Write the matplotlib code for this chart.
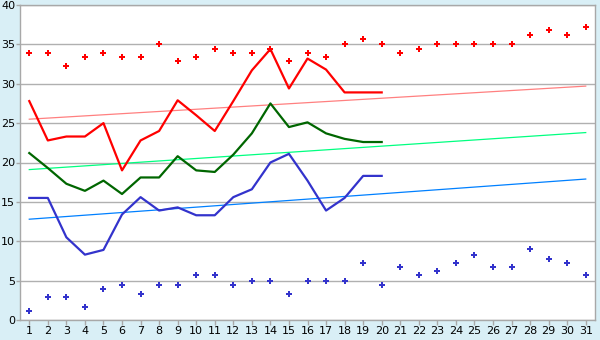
import matplotlib
matplotlib.use("Agg")
import numpy as np
from matplotlib import pyplot as plt

# days of the month
days = list(range(1, 32))
line_days = list(range(1, 21))

# max temperature (points) for every day
max_pts = [33.9, 33.9, 32.2, 33.4, 33.9, 33.4, 33.4, 35.0, 32.9, 33.4,
           34.4, 33.9, 33.9, 34.4, 32.9, 33.9, 33.4, 35.0, 35.7, 35.0,
           33.9, 34.4, 35.0, 35.0, 35.0, 35.0, 35.0, 36.2, 36.8, 36.2, 37.2]
# min temperature (points) for every day
min_pts = [1.1, 2.9, 2.9, 1.7, 3.9, 4.4, 3.3, 4.4, 4.4, 5.7,
           5.7, 4.4, 5.0, 5.0, 3.3, 5.0, 5.0, 5.0, 7.2, 4.4,
           6.7, 5.7, 6.2, 7.2, 8.3, 6.7, 6.7, 9.0, 7.8, 7.2, 5.7]

# measured series, days 1..20
red_line = [27.8, 22.8, 23.3, 23.3, 25.0, 19.0, 22.8, 24.0, 27.9, 26.0,
            24.0, 27.8, 31.7, 34.4, 29.4, 33.2, 31.8, 28.9, 28.9, 28.9]
green_line = [21.2, 19.3, 17.3, 16.4, 17.7, 16.0, 18.1, 18.1, 20.8, 19.0,
              18.8, 21.0, 23.7, 27.5, 24.5, 25.1, 23.7, 23.0, 22.6, 22.6]
blue_line = [15.5, 15.5, 10.5, 8.3, 8.9, 13.4, 15.6, 13.9, 14.3, 13.3,
             13.3, 15.6, 16.6, 20.0, 21.1, 17.7, 13.9, 15.5, 18.3, 18.3]

# trend lines (start / end of month)
trend_days = [1, 31]
red_trend = [25.5, 29.7]
green_trend = [19.1, 23.8]
blue_trend = [12.8, 17.9]

fig = plt.figure(figsize=(6, 3.4), dpi=100, facecolor="#d9eff6")
ax = fig.add_axes([20 / 600, 20 / 340, 575 / 600, 315 / 340])
ax.set_facecolor("white")

ax.set_xlim(0.5, 31.5)
ax.set_ylim(0, 40)
ax.set_yticks(range(0, 41, 5))
ax.set_xticks(days)
ax.grid(axis="y", color="#b0b0b0", linewidth=1)
ax.set_axisbelow(True)

for s in ax.spines.values():
    s.set_color("#a8a8a8")
    s.set_linewidth(1)

ax.tick_params(axis="both", colors="#a8a8a8", labelcolor="black", labelsize=8,
               length=3.5, width=1, pad=1)
ax.tick_params(axis="y", length=3, pad=0.5)

# trend lines
ax.plot(trend_days, red_trend, color="#ff8080", linewidth=0.9)
ax.plot(trend_days, green_trend, color="#00ff80", linewidth=0.9)
ax.plot(trend_days, blue_trend, color="#0080ff", linewidth=0.9)

# daily series
ax.plot(line_days, red_line, color="#ff0000", linewidth=1.6)
ax.plot(line_days, green_line, color="#006600", linewidth=1.6)
ax.plot(line_days, blue_line, color="#3333cc", linewidth=1.6)

# extremes
ax.plot(days, max_pts, linestyle="none", marker="P", markersize=5,
        color="#ff0000", markeredgewidth=0)
ax.plot(days, min_pts, linestyle="none", marker="P", markersize=5,
        color="#3333cc", markeredgewidth=0)

fig.savefig("out.png", dpi=100, facecolor=fig.get_facecolor())
